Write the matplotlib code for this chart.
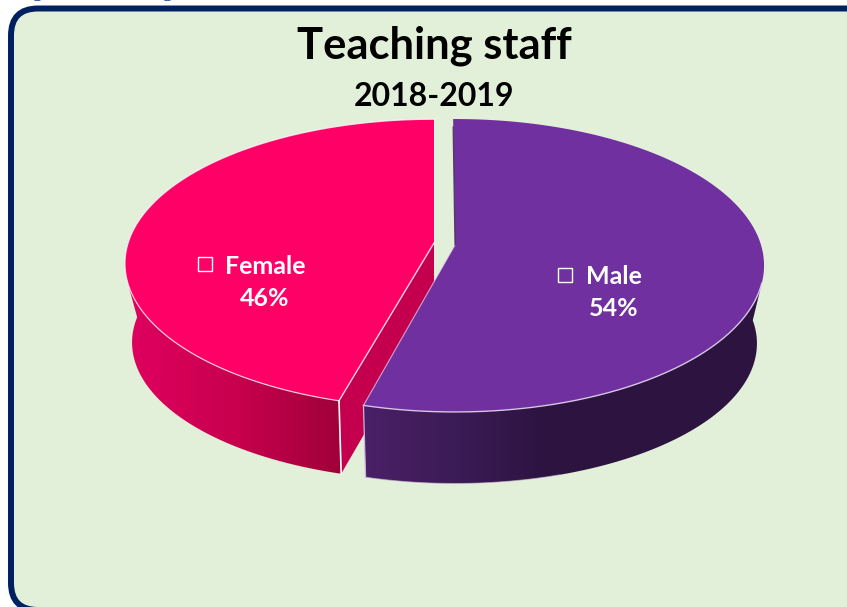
import numpy as np
import matplotlib
matplotlib.use("Agg")
import matplotlib.pyplot as plt
from matplotlib.patches import FancyBboxPatch, Polygon, Rectangle
from matplotlib.colors import LinearSegmentedColormap, Normalize

title = "Teaching staff"
subtitle = "2018-2019"
categories = ["Male", "Female"]
shares = [54, 46]
share_labels = ["54%", "46%"]

BG = "#e2efd9"
NAVY = "#002060"
TOP_COLORS = ["#7030a0", "#ff0066"]
side_male = LinearSegmentedColormap.from_list("m", ["#4a2068", "#3c1b56", "#2c1340", "#2c1340"])
side_female = LinearSegmentedColormap.from_list("f", ["#e00060", "#c8004e", "#9f0038"])

fig = plt.figure(figsize=(8.47, 6.07), dpi=100, facecolor="white")
ax = fig.add_axes([0, 0, 1, 1])
ax.set_xlim(0, 847)
ax.set_ylim(607, 0)
ax.axis("off")

# blue descenders of a cropped heading above the panel
for x in (40, 170):
    ax.text(x, -4, "p", family="Liberation Serif", weight="bold", fontsize=17,
            color="#3f66aa", ha="center", va="baseline")

panel = FancyBboxPatch((11, 8.5), 900, 601.5, boxstyle="round,pad=0,rounding_size=27",
                       fc=BG, ec=NAVY, lw=4.3, zorder=1)
ax.add_patch(panel)

K = 0.14
A, B, APEX = 306.0, 143.6, -20.0


def rim(t_deg, cx, cy, ax_scale=1.0, by_scale=1.0, warp=1.2):
    """Project a disc point (clockwise from back) through a simple perspective."""
    t = np.radians(t_deg + warp * (1 - np.cos(np.radians(t_deg))) / 2)
    u, v = np.sin(t), -np.cos(t)
    w = 1 - K * v
    return cx + ax_scale * A * u / w, cy + by_scale * (B * v / w + APEX)


def side_wall(top_x, top_y, low_x, low_y, cmap, norm, zorder):
    pts = np.column_stack([np.r_[top_x, low_x[::-1]], np.r_[top_y, low_y[::-1]]])
    clip = Polygon(pts, fc="none", ec="none", transform=ax.transData)
    ax.add_patch(clip)
    xs = np.arange(pts[:, 0].min() - 1, pts[:, 0].max() + 2)
    img = cmap(norm(xs))[None, :, :]
    im = ax.imshow(img, extent=(xs[0], xs[-1], pts[:, 1].max() + 1, pts[:, 1].min() - 1),
                   aspect="auto", zorder=zorder, interpolation="bilinear")
    im.set_clip_path(clip)
    ax.set_xlim(0, 847)
    ax.set_ylim(607, 0)


male_end = 360.0 * shares[0] / sum(shares)

# female (drawn first)
cx, cy = 434, 263
ts = np.linspace(male_end, 360.0, 300)
tx, ty = rim(ts, cx, cy, 1.0, 0.985)
bx, by_ = rim(ts, 434, 342, 0.977, 138 / 146.5)
ap = (cx, cy + APEX)
cut_bottom = (bx[0], by_[0])
ax.add_patch(Polygon([ap, (tx[0], ty[0]), cut_bottom, (ap[0], cut_bottom[1] - 160)],
                     fc="#c4004e", ec="none", zorder=2))
m_top = (ts <= 300) & (ty >= 281)
m_low = ts <= 272
side_wall(tx[m_top], ty[m_top], bx[m_low], by_[m_low], side_female, Normalize(124, 345), 3)
ax.add_patch(Polygon(np.column_stack([np.r_[ap[0], tx], np.r_[ap[1], ty]]),
                     fc=TOP_COLORS[1], ec="none", zorder=4))
ax.plot(tx, ty, color="white", lw=0.9, alpha=0.75, zorder=5)
ax.plot([ap[0], tx[0]], [ap[1], ty[0]], color="white", lw=1.0, alpha=0.8, zorder=5)
ax.plot([tx[0], bx[0]], [ty[0], by_[0]], color="white", lw=1.2, zorder=5)
ax.plot([ap[0], ap[0]], [ap[1], ty[-1]], color="white", lw=0.7, alpha=0.5, zorder=5)

# male
cx, cy = 455, 265
ts = np.linspace(-0.4, male_end, 300)
tx, ty = rim(ts, cx, cy, warp=0.6)
bx, by_ = rim(ts, 455, 343, 0.977, 140 / 146.5, warp=0.6)
ap = (cx, cy + APEX)
m_top = (ts >= 60) & (ty >= 283)
m_low = ts >= 88
side_wall(tx[m_top], ty[m_top], bx[m_low], by_[m_low], side_male, Normalize(363, 640), 6)
ax.add_patch(Polygon(np.column_stack([np.r_[ap[0], tx], np.r_[ap[1], ty]]),
                     fc=TOP_COLORS[0], ec="none", zorder=7))
ax.plot(tx[m_top], ty[m_top], color="#e8dcf0", lw=1.0, alpha=0.85, zorder=8)
ax.plot([ap[0], tx[-1]], [ap[1], ty[-1]], color="#e8dcf0", lw=0.8, alpha=0.7, zorder=8)
ax.plot([tx[-1], bx[-1]], [ty[-1], by_[-1]], color="#cbb8d8", lw=0.9, zorder=8)
low = m_low & (bx < 560)
ax.plot(bx[low], by_[low], color="#cbb8d8", lw=0.7, alpha=0.6, zorder=8)
ax.plot([tx[0], ap[0]], [ty[0] + 8, ap[1]], color="#40304f", lw=0.9, alpha=0.85, zorder=8)

FONT = "Lato"
ax.text(434, 46, title, family=FONT, weight="bold", fontsize=31.3, color="black",
        ha="center", va="center", zorder=10)
ax.text(434, 97, subtitle, family=FONT, weight="bold", fontsize=23, color="black",
        ha="center", va="center", zorder=10)

label_pos = {"Female": (225, 266, 265, 298, 198, 257), "Male": (586, 277, 614, 309, 558, 268)}
for name, pct in zip(categories, share_labels):
    x0, y0, xp, yp, xs, ys = label_pos[name]
    ax.text(x0, y0, name, family=FONT, weight="bold", fontsize=18, color="white",
            ha="left", va="center", zorder=10)
    ax.text(xp, yp, pct, family=FONT, weight="bold", fontsize=18, color="white",
            ha="center", va="center", zorder=10)
    ax.add_patch(Rectangle((xs, ys), 14, 13.5, fc="none", ec="white", lw=1.0, zorder=10))

fig.savefig("out.png", dpi=100, facecolor="white")
